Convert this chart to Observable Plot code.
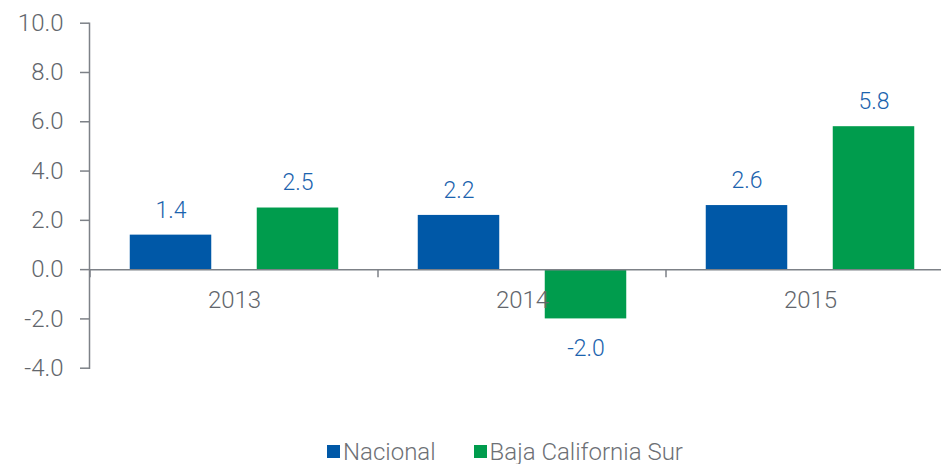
<!DOCTYPE html>
<html>
<head>
<meta charset="utf-8">
<script src="https://cdn.jsdelivr.net/npm/d3@7"></script>
<script src="https://cdn.jsdelivr.net/npm/@observablehq/plot@0.6"></script>
<style>
  html, body { margin: 0; padding: 0; background: #fff; }
  #chart { width: 941px; height: 464px; overflow: hidden; font-family: Roboto, "Liberation Sans", sans-serif; }
  #legend { display: flex; align-items: center; height: 39px; padding-top: 7px; padding-left: 327px; font-size: 24px; font-weight: 300; color: #6d7075; }
  .item { display: flex; align-items: center; margin-right: 38px; }
  .sw { width: 13px; height: 13px; margin-right: 3px; }
</style>
</head>
<body>
<div id="chart"></div>
<script>
const years = ["2013", "2014", "2015"];
const seriesNames = ["Nacional", "Baja California Sur"];
const nacional = [1.4, 2.2, 2.6];
const bajaCaliforniaSur = [2.5, -2.0, 5.8];
const yTicks = [10, 8, 6, 4, 2, 0, -2, -4];
const seriesColors = ["#0058a7", "#009c4d"];

const rows = years.flatMap((year, i) => [
  {year, series: seriesNames[0], value: nacional[i]},
  {year, series: seriesNames[1], value: bajaCaliforniaSur[i]}
]);
const nac = rows.filter(d => d.series === seriesNames[0]);
const bcs = rows.filter(d => d.series === seriesNames[1]);

const axisColor = "#7d8187";
const textGray = "#62666c";
const labelBlue = "#1b63ae";

// band step 288.5, bar width 82, outer pad 39.75, inner gap 45
const padOuter = 39.75, padInner = 166.75;

function boundaryTicks(index, scales) {
  const x = scales.x, y = scales.y;
  const step = x(years[1]) - x(years[0]);
  const xs = [...years.map(d => x(d)), x(years[years.length - 1]) + step];
  const g = d3.create("svg:g").attr("stroke", axisColor).attr("stroke-width", 1.5);
  for (const v of xs) {
    g.append("line").attr("x1", v).attr("x2", v).attr("y1", y(0)).attr("y2", y(0) + 8);
  }
  return g.node();
}

const plot = Plot.plot({
  width: 941,
  height: 425,
  marginLeft: 89,
  marginRight: -13.5,
  marginTop: 22.7,
  marginBottom: 57.3,
  style: {fontFamily: "Roboto, 'Liberation Sans', sans-serif", fontWeight: 300, background: "#fff"},
  x: {type: "band", domain: years, padding: 0, axis: null},
  y: {domain: [-4, 10], axis: null},
  marks: [
    Plot.barY(nac, {x: "year", y: "value", fill: seriesColors[0], insetLeft: padOuter, insetRight: padInner}),
    Plot.barY(bcs, {x: "year", y: "value", fill: seriesColors[1], insetLeft: padInner, insetRight: padOuter}),
    Plot.ruleY([0], {stroke: axisColor, strokeWidth: 1.5}),
    Plot.frame({anchor: "left", stroke: axisColor, strokeWidth: 1.5}),
    Plot.axisY({ticks: yTicks, tickFormat: d => d.toFixed(1), tickSize: 9, tickPadding: 17, fontSize: 24, color: textGray, stroke: axisColor, strokeWidth: 1.5, strokeOpacity: 1, label: null}),
    boundaryTicks,
    Plot.text(years, {x: d => d, y: () => 0, text: d => d, dy: 31, fontSize: 24, fill: textGray, lineAnchor: "middle"}),
    Plot.text(nac, {x: "year", y: "value", text: d => d.value.toFixed(1), dx: -63.5, dy: -25, fontSize: 23, fill: labelBlue, lineAnchor: "middle"}),
    Plot.text(bcs, {x: "year", y: "value", text: d => d.value.toFixed(1), dx: 63.5, dy: -25, fontSize: 23, fill: labelBlue, lineAnchor: "middle", filter: d => d.value >= 0}),
    Plot.text(bcs, {x: "year", y: "value", text: d => d.value.toFixed(1), dx: 63.5, dy: 30, fontSize: 23, fill: labelBlue, lineAnchor: "middle", filter: d => d.value < 0})
  ]
});

const chart = document.getElementById("chart");
chart.appendChild(plot);

const legend = document.createElement("div");
legend.id = "legend";
seriesNames.forEach((name, i) => {
  const item = document.createElement("div");
  item.className = "item";
  const sw = document.createElement("span");
  sw.className = "sw";
  sw.style.background = seriesColors[i];
  const label = document.createElement("span");
  label.textContent = name;
  item.appendChild(sw);
  item.appendChild(label);
  legend.appendChild(item);
});
chart.appendChild(legend);
</script>
</body>
</html>
